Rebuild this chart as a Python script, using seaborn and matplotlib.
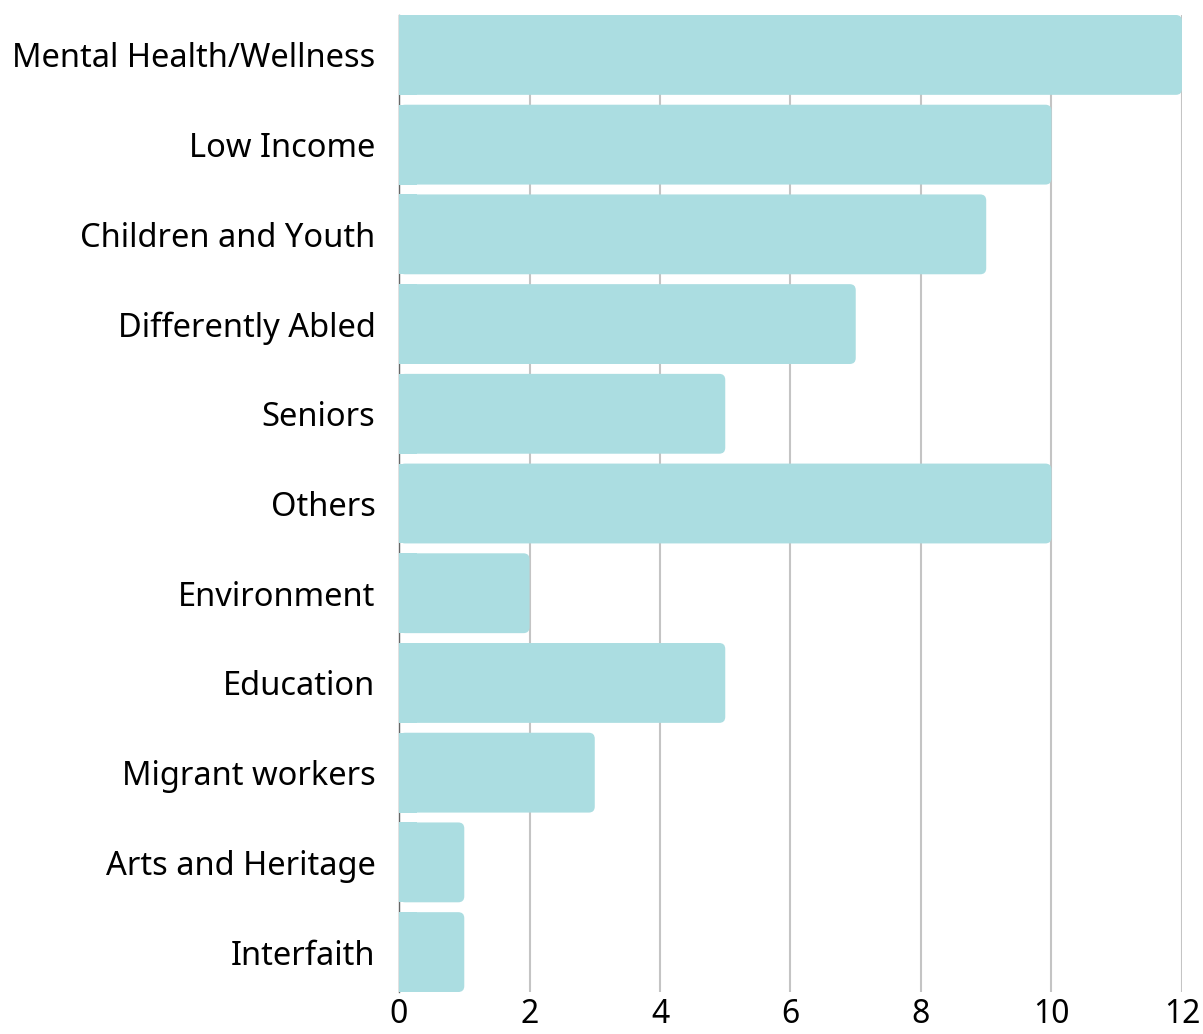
#!/usr/bin/env python3
import matplotlib
matplotlib.use("Agg")
import matplotlib.pyplot as plt
import pandas as pd
import seaborn as sns
from matplotlib.patches import FancyBboxPatch, Rectangle

sns.set_theme(style="white")
plt.rcParams['font.family'] = ['Noto Sans', 'DejaVu Sans']

causes = [
    'Mental Health/Wellness', 'Low Income', 'Children and Youth',
    'Differently Abled', 'Seniors', 'Others', 'Environment', 'Education',
    'Migrant workers', 'Arts and Heritage', 'Interfaith'
]
counts = [12, 10, 9, 7, 5, 10, 2, 5, 3, 1, 1]
x_ticks = [0, 2, 4, 6, 8, 10, 12]

BAR_COLOR = '#abdde1'

df = pd.DataFrame({'cause': causes, 'count': counts})

fig = plt.figure(figsize=(12.03, 10.34), dpi=100)
ax = fig.add_axes([0.3317, 0.0406, 0.9825 - 0.3317, 0.9855 - 0.0406])

sns.barplot(data=df, x='count', y='cause', color=BAR_COLOR, width=0.89,
            saturation=1, ax=ax)

ax.set_xlim(0, 12)
ax.set_ylim(len(causes) - 0.555, -0.445)

# swap plain bars for ones with rounded right ends
px_x = (0.9825 - 0.3317) * 1203 / 12
px_y = (0.9855 - 0.0406) * 1034 / (len(causes) - 0.11)
r = 6 / px_x
for p in list(ax.patches):
    x0, y0 = p.get_x(), p.get_y()
    w, h = p.get_width(), p.get_height()
    p.remove()
    ax.add_patch(FancyBboxPatch((x0, y0), w, h,
                                boxstyle=f"round,pad=0,rounding_size={r}",
                                mutation_aspect=px_x / px_y,
                                fc=BAR_COLOR, ec='none', lw=0, zorder=3))
    ax.add_patch(Rectangle((x0, y0), min(w, 3 * r), h, fc=BAR_COLOR,
                           ec='none', lw=0, zorder=3))

ax.set_xticks(x_ticks)
ax.xaxis.grid(True, color='#c4c4c4', linewidth=1.5)
ax.set_axisbelow(True)
for s in ['top', 'right', 'bottom']:
    ax.spines[s].set_visible(False)
ax.spines['left'].set_color('#666666')
ax.spines['left'].set_linewidth(1.0)
ax.spines['left'].set_zorder(2)
ax.tick_params(axis='both', length=0, colors='black')
ax.tick_params(axis='y', pad=17, labelsize=23.5)
ax.tick_params(axis='x', pad=4, labelsize=23)
ax.set_xlabel('')
ax.set_ylabel('')

fig.savefig('out.png', dpi=100)
